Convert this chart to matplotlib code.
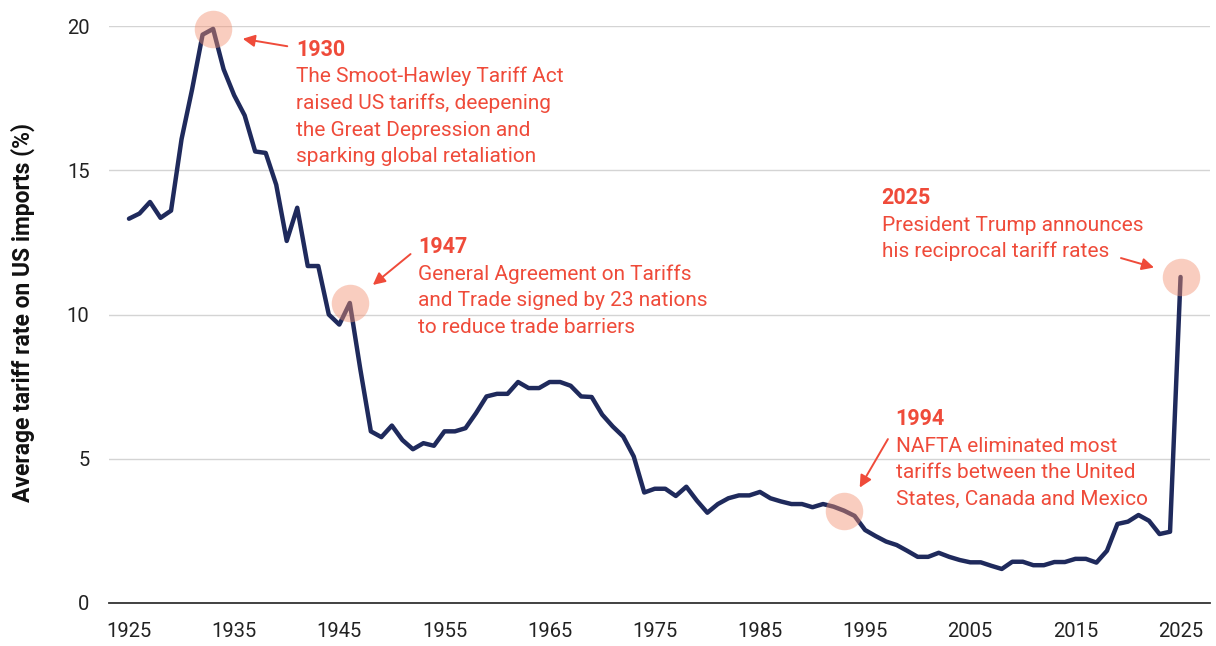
import matplotlib
matplotlib.use("Agg")
import matplotlib.pyplot as plt
import numpy as np

plt.rcParams['font.family'] = ['Roboto', 'DejaVu Sans']

years = list(range(1925, 2026))
tariff = [
    13.32, 13.5, 13.9, 13.35, 13.6, 16.08, 17.8, 19.7, 19.9, 18.5,
    17.6, 16.9, 15.65, 15.6, 14.5, 12.55, 13.7, 11.68, 11.68, 10.0,
    9.65, 10.4, 8.1, 5.95, 5.75, 6.15, 5.65, 5.33, 5.54, 5.45,
    5.95, 5.95, 6.06, 6.58, 7.16, 7.25, 7.25, 7.66, 7.45, 7.45,
    7.66, 7.66, 7.53, 7.16, 7.14, 6.53, 6.12, 5.77, 5.08, 3.83,
    3.96, 3.96, 3.71, 4.03, 3.55, 3.13, 3.43, 3.63, 3.73, 3.73,
    3.85, 3.63, 3.52, 3.43, 3.43, 3.32, 3.43, 3.34, 3.2, 3.02,
    2.53, 2.32, 2.13, 2.01, 1.81, 1.6, 1.6, 1.74, 1.6, 1.49,
    1.41, 1.41, 1.29, 1.18, 1.43, 1.43, 1.31, 1.31, 1.42, 1.42,
    1.53, 1.53, 1.4, 1.81, 2.74, 2.82, 3.05, 2.85, 2.39, 2.47,
    11.3,
]
x_ticks = [1925, 1935, 1945, 1955, 1965, 1975, 1985, 1995, 2005, 2015, 2025]
y_ticks = [0, 5, 10, 15, 20]
highlight_years = [1933, 1946, 1993, 2025]

ann_heads = ["1930", "1947", "1994", "2025"]
ann_bodies = [
    ["The Smoot-Hawley Tariff Act", "raised US tariffs, deepening",
     "the Great Depression and", "sparking global retaliation"],
    ["General Agreement on Tariffs", "and Trade signed by 23 nations",
     "to reduce trade barriers"],
    ["NAFTA eliminated most", "tariffs between the United",
     "States, Canada and Mexico"],
    ["President Trump announces", "his reciprocal tariff rates"],
]

NAVY = '#1F2A5C'
RED = '#EF4B3A'
CIRCLE = '#F29172'

W, H = 1216, 646
fig = plt.figure(figsize=(W / 100, H / 100), dpi=100)
ax = fig.add_axes([109 / W, (H - 603) / H, 1101 / W, 577 / H])

ax.plot(years, tariff, color=NAVY, lw=3.2, solid_joinstyle='round',
        solid_capstyle='round', zorder=2)

hy = [tariff[years.index(y)] for y in highlight_years]
ax.plot(highlight_years, hy, 'o', ms=27, color=CIRCLE, alpha=0.45,
        mec='none', zorder=3, clip_on=False)

ax.set_xlim(1923.1, 2027.8)
ax.set_ylim(0, 20)
ax.set_xticks(x_ticks)
ax.set_yticks(y_ticks)
ax.tick_params(axis='both', length=0, labelsize=14.5, colors='#222222')
ax.tick_params(axis='x', pad=14)
ax.tick_params(axis='y', pad=14)
ax.grid(axis='y', color='#d4d4d4', lw=1.0)
ax.set_axisbelow(True)
for s in ['top', 'right', 'left']:
    ax.spines[s].set_visible(False)
ax.spines['bottom'].set_color('#333333')
ax.spines['bottom'].set_linewidth(1.3)

fig.text(23 / W, 1 - 312 / H, 'Average tariff rate on US imports (%)',
         rotation=90, ha='center', va='center', fontsize=16.5,
         fontweight='bold', color='#111111')


def fx(px):
    return px / W


def fy(py):
    return 1 - py / H


# annotation layout: (left x, header baseline) in pixels
ann_pos = [(296.5, 55.7), (418.3, 253.3), (895.7, 425.0), (881.7, 204.0)]
line_gap = 26.6
for (x0, b0), head, body in zip(ann_pos, ann_heads, ann_bodies):
    fig.text(fx(x0), fy(b0), head, ha='left', va='baseline', fontsize=15.5,
             fontweight='bold', color=RED)
    for k, line in enumerate(body):
        fig.text(fx(x0), fy(b0 + line_gap * (k + 1)), line, ha='left',
                 va='baseline', fontsize=15, color=RED)

arrows = [
    ((290, 46.7), (240, 38.3)),
    ((412.7, 252.3), (370.7, 286.7)),
    ((889.3, 436.7), (858.3, 490.0)),
    ((1118.3, 257.3), (1156.7, 268.3)),
]
for (tx, ty), (hx, hy_) in arrows:
    fig.add_artist(matplotlib.patches.FancyArrowPatch(
        (fx(tx), fy(ty)), (fx(hx), fy(hy_)), transform=fig.transFigure,
        arrowstyle='-|>', mutation_scale=18, color=RED, lw=1.4))

fig.savefig('out.png', dpi=100)
